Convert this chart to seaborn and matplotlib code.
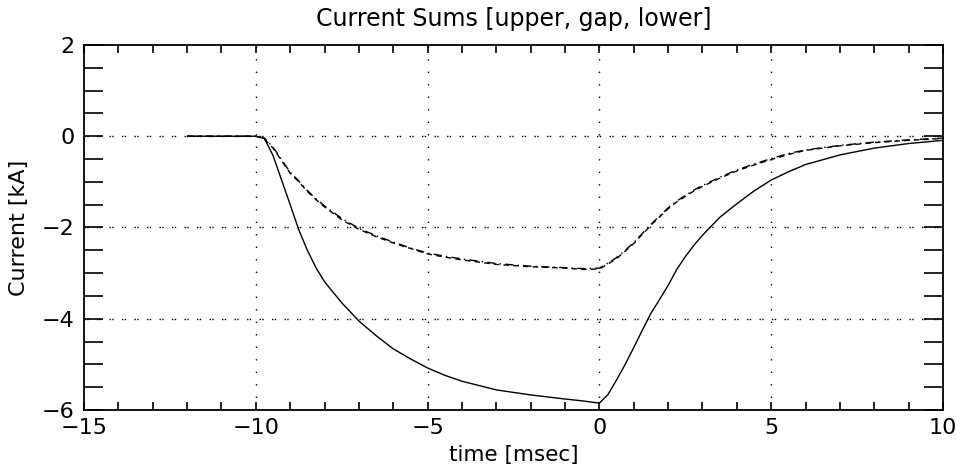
"""Current sums (upper, gap, lower) vs time, IDL-style plot."""

import matplotlib

matplotlib.use("Agg")
import matplotlib.pyplot as plt
import numpy as np
import seaborn as sns
from matplotlib.ticker import MultipleLocator

# time axis [msec]
TIME = [-12, -10, -9.75, -9.5, -9, -8.75, -8.5, -8.25, -8, -7.5, -7, -6.5, -6, -5.5,
        -5, -4.5, -4, -3, -2, -1, -0.5, 0, 0.25, 0.5, 0.75, 1, 1.25, 1.5, 1.75, 2,
        2.25, 2.5, 2.75, 3, 3.5, 4, 4.5, 5, 5.5, 6, 7, 8, 9, 10]

# current sums [kA]
UPPER = [0, 0, -0.05, -0.42, -1.50, -2.05, -2.50, -2.88, -3.19, -3.65, -4.05, -4.37,
         -4.66, -4.88, -5.08, -5.24, -5.37, -5.56, -5.67, -5.76, -5.80, -5.85, -5.66,
         -5.34, -5.00, -4.63, -4.25, -3.88, -3.58, -3.27, -2.92, -2.64, -2.39, -2.17,
         -1.78, -1.48, -1.20, -0.96, -0.78, -0.62, -0.41, -0.26, -0.16, -0.09]
GAP = [0, 0, -0.06, -0.26, -0.81, -1.00, -1.21, -1.39, -1.55, -1.83, -2.04, -2.20,
       -2.34, -2.46, -2.58, -2.65, -2.71, -2.81, -2.86, -2.89, -2.92, -2.91, -2.80,
       -2.68, -2.52, -2.35, -2.15, -1.95, -1.77, -1.59, -1.44, -1.32, -1.20, -1.10,
       -0.92, -0.76, -0.63, -0.51, -0.40, -0.31, -0.21, -0.14, -0.09, -0.05]
LOWER = [0, 0, -0.04, -0.24, -0.79, -0.98, -1.19, -1.37, -1.53, -1.80, -2.02, -2.18,
         -2.32, -2.45, -2.56, -2.63, -2.69, -2.79, -2.85, -2.88, -2.90, -2.89, -2.78,
         -2.66, -2.50, -2.33, -2.13, -1.93, -1.75, -1.57, -1.42, -1.30, -1.18, -1.08,
         -0.90, -0.74, -0.61, -0.49, -0.38, -0.30, -0.20, -0.13, -0.08, -0.04]

sns.set_theme(style="white")
plt.rcParams["font.family"] = ["DejaVu Sans"]
plt.rcParams["text.color"] = "black"
plt.rcParams["axes.labelcolor"] = "black"
plt.rcParams["xtick.color"] = "black"
plt.rcParams["ytick.color"] = "black"

fig = plt.figure(figsize=(9.56, 4.72), dpi=100)
ax = fig.add_axes([0.0879, 0.1314, 0.8985, 0.7733])

t = np.array(TIME)
sns.lineplot(x=t, y=UPPER, ax=ax, color="black", lw=1.0, estimator=None, sort=False)
sns.lineplot(x=t, y=GAP, ax=ax, color="black", lw=1.0, estimator=None, sort=False,
             linestyle=(0, (4, 3)))
sns.lineplot(x=t, y=LOWER, ax=ax, color="black", lw=1.0, estimator=None, sort=False,
             linestyle=(0, (6, 3, 1, 3)))

# dotted grid at the major ticks inside the frame
for xv in [-10, -5, 0, 5]:
    ax.axvline(xv, color="black", lw=1.0, linestyle=(0, (1, 8)), zorder=0)
for yv in [0, -2, -4]:
    ax.axhline(yv, color="black", lw=1.0, linestyle=(0, (1, 1, 1, 6)), zorder=0)

ax.set_xlim(-15, 10)
ax.set_ylim(-6, 2)
ax.xaxis.set_major_locator(MultipleLocator(5))
ax.xaxis.set_minor_locator(MultipleLocator(1))
ax.yaxis.set_major_locator(MultipleLocator(2))
ax.yaxis.set_minor_locator(MultipleLocator(0.5))
ax.tick_params(axis="x", which="both", direction="in", length=6, width=1.2,
               top=True, bottom=True, labelsize=16, pad=6)
ax.tick_params(axis="y", which="both", direction="in", length=14, width=1.2,
               left=True, right=True, labelsize=16, pad=7)
for sp in ax.spines.values():
    sp.set_color("black")
    sp.set_linewidth(1.3)

ax.set_title("Current Sums [upper, gap, lower]", fontsize=17, pad=14)
ax.set_xlabel("time [msec]", fontsize=15.5, labelpad=5)
ax.set_ylabel("Current [kA]", fontsize=16, labelpad=9)

fig.savefig("out.png", dpi=100, facecolor="white")
